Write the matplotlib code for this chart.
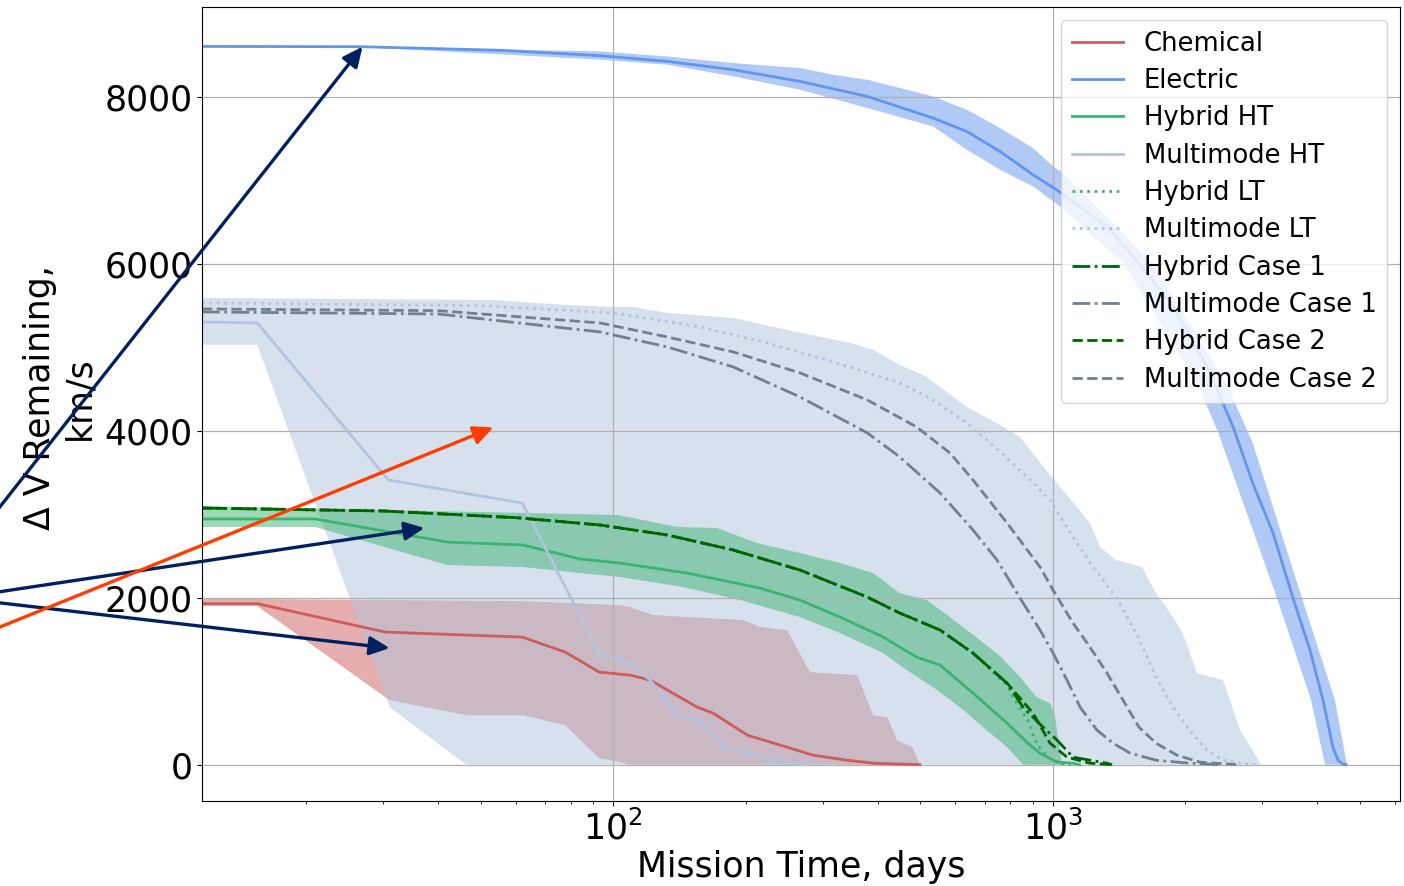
import matplotlib
matplotlib.use("Agg")
import matplotlib.pyplot as plt
import numpy as np

# ---------------- data (days, km/s) ----------------
chem_days = [11.6, 15.5, 30.3, 62.1, 77.8, 92.9, 103.7, 109.3, 121.4, 155.3, 168.8, 201.9, 248.6, 284.9, 340.5, 390.4, 498.7]
chem_dv = [1930, 1930, 1589, 1529, 1349, 1109, 1085, 1073, 1013, 689, 617, 354, 210, 114, 54, 18, 0]
chem_up_days = [11.6, 62.1, 103.7, 109.3, 123.3, 197.7, 215.8, 248.6, 280.4, 359.0, 390.4, 420.0, 442.1, 480.1, 498.7]
chem_up_dv = [1990, 1960, 1912, 1888, 1793, 1733, 1649, 1613, 1109, 1073, 593, 570, 294, 210, 0]
chem_lo_days = [11.6, 15.5, 31.0, 46.3, 62.1, 77.8, 92.9, 103.7, 108.0]
chem_lo_dv = [1900, 1900, 773, 593, 593, 474, 78, 30, 0]

elec_days = [11.6, 26.6, 55.3, 93.4, 132.7, 187.5, 266.1, 378.6, 534.1, 637.8, 759, 902, 1020, 1329, 1571, 1877, 2244, 2571, 2850, 3170, 3520, 3848, 4119, 4340, 4456, 4574, 4650]
elec_dv = [8606, 8603, 8560, 8495, 8427, 8327, 8187, 8007, 7748, 7587, 7347, 7068, 6888, 6448, 6009, 5489, 4770, 4050, 3375, 2776, 1996, 1373, 773, 210, 54, 6, 0]
elec_up_days = [11.6, 26.6, 93.4, 132.7, 187.5, 266.1, 316.4, 378.6, 534.1, 637.8, 759, 902, 1001.6, 1050, 1680, 2482, 2850, 3690, 4385, 4670]
elec_up_dv = [8606, 8606, 8546, 8486, 8407, 8347, 8267, 8207, 8007, 7847, 7628, 7388, 7168, 7100, 6013, 4574, 3855, 1996, 773, 0]
elec_lo_days = [11.6, 26.6, 93.4, 132.7, 187.5, 266.1, 378.6, 534.1, 637.8, 759, 902, 1039, 1444, 2129, 2376, 3237, 3870, 4163]
elec_lo_dv = [8606, 8600, 8447, 8387, 8247, 8087, 7868, 7648, 7368, 7128, 6928, 6688, 6013, 4574, 3987, 1996, 773, 0]

hht_days = [11.6, 21.0, 41.9, 62.4, 84.1, 103.7, 147.3, 215.8, 266.1, 328.2, 411.5, 490, 554, 658.6, 787.2, 877, 935.6, 1023, 1112, 1150]
hht_dv = [2944, 2944, 2668, 2632, 2464, 2416, 2296, 2116, 1972, 1769, 1529, 1289, 1193, 857, 498, 258, 138, 30, 18, 0]
hyb_up_days = [11.6, 102.1, 111.0, 139.9, 172.3, 212.4, 266.1, 328.2, 390.4, 448.7, 516.9, 583.6, 682.9, 759, 842.6, 918, 985.8, 1010, 1030, 1050]
hyb_up_dv = [3099, 2992, 2956, 2848, 2836, 2656, 2536, 2416, 2296, 2056, 1972, 1769, 1493, 1300, 1050, 809, 737, 600, 300, 0]
hyb_lo_days = [11.6, 21.0, 41.9, 62.4, 84.1, 103.7, 144.3, 194.6, 266.1, 328.2, 411.5, 465.4, 534.1, 614.9, 693.7, 787.2, 855.9]
hyb_lo_dv = [2848, 2848, 2392, 2368, 2296, 2248, 2128, 1972, 1769, 1577, 1337, 1133, 929, 689, 450, 210, 0]

mht_days = [11.6, 15.5, 30.8, 62.1, 92.9, 107.6, 121.4, 139.9, 155.3, 184.6, 205.1, 231.2, 276.0]
mht_dv = [5305, 5293, 3411, 3135, 1337, 1229, 1013, 593, 534, 174, 138, 30, 0]
mm_up_days = [11.6, 52.5, 78.6, 100, 111, 132.7, 187.5, 248.6, 345.9, 390.4, 448.7, 516.9, 637.8, 759, 842.6, 970.5, 1077.6, 1215, 1281, 1393, 1596, 1717, 1850, 1975, 2129, 2439, 2531, 2667, 2850, 2961, 2975]
mm_up_dv = [5593, 5569, 5509, 5485, 5485, 5413, 5353, 5209, 5054, 4970, 4790, 4646, 4286, 4070, 3927, 3515, 3230, 2896, 2608, 2452, 2368, 2056, 1817, 1577, 1097, 1013, 773, 414, 174, 18, 0]
mm_lo_days = [11.6, 15.5, 31.0, 46.3]
mm_lo_dv = [5030, 5030, 689, 0]

hlt_days = [11.6, 30, 60, 93.4, 132.7, 187.5, 266.1, 378.6, 448.7, 554.3, 658.6, 787.2, 812, 877, 918, 970, 1039, 1100]
hlt_dv = [3075, 3040, 2960, 2872, 2752, 2572, 2332, 2008, 1817, 1613, 1337, 950, 809, 534, 258, 90, 18, 0]
mlt_days = [11.6, 50, 100, 157.7, 223.9, 316.4, 448.7, 534.1, 637.8, 759, 887.9, 985.8, 1112, 1235, 1393, 1571, 1717, 1877, 2045, 2244, 2439, 2667, 2900]
mlt_dv = [5533, 5500, 5413, 5245, 5054, 4826, 4574, 4370, 4095, 3750, 3411, 3171, 2728, 2368, 2008, 1510, 1049, 689, 414, 174, 54, 18, 0]

hc1_days = [11.6, 30, 60, 93.4, 132.7, 187.5, 266.1, 378.6, 448.7, 554.3, 658.6, 787.2, 855.9, 950, 1023, 1112, 1329, 1364]
hc1_dv = [3075, 3040, 2960, 2872, 2752, 2572, 2332, 2008, 1817, 1613, 1337, 977, 689, 450, 294, 90, 18, 0]
mc1_days = [11.6, 40, 93.4, 132.7, 187.5, 266.1, 378.6, 448.7, 554.3, 658.6, 746.8, 842.6, 935.6, 1001.6, 1077.6, 1154, 1261, 1371, 1500, 1717, 2045, 2400]
mc1_dv = [5425, 5400, 5185, 5006, 4766, 4406, 3975, 3687, 3255, 2812, 2452, 1996, 1613, 1337, 1013, 689, 414, 258, 138, 54, 18, 0]

hc2_days = [11.6, 30, 60, 93.4, 132.7, 187.5, 266.1, 378.6, 448.7, 554.3, 658.6, 787.2, 902, 985.8, 1077.6, 1215, 1364]
hc2_dv = [3075, 3040, 2960, 2872, 2752, 2572, 2332, 2008, 1817, 1613, 1337, 977, 617, 258, 90, 18, 0]
mc2_days = [11.6, 40, 93.4, 132.7, 187.5, 266.1, 378.6, 490, 583.6, 658.6, 787.2, 935.6, 1001.6, 1111.9, 1215, 1329, 1445, 1571, 1717, 1917, 2163, 2439, 2650]
mc2_dv = [5461, 5440, 5293, 5125, 4946, 4694, 4370, 4047, 3735, 3411, 2896, 2368, 2092, 1697, 1409, 1097, 773, 450, 258, 114, 30, 12, 0]

# annotation arrows: tips in data coords, tails in figure pixels
arrow_tip_days = [26.9, 37.2, 31.0, 53.4]
arrow_tip_dv = [8603, 2836, 1397, 4041]
arrow_tail_px = [(-42, 326), (-42, 288), (-42, 288), (-42, 242)]
arrow_colors = ['#002060', '#002060', '#002060', '#FF3D00']

# ---------------- figure ----------------
W, H = 1404, 886
fig = plt.figure(figsize=(W / 100, H / 100), dpi=100)
ax = fig.add_axes([202 / W, 1 - 801 / H, 1198 / W, 793.7 / H])


def band(xu, yu, xl, yl, color, alpha):
    xs = np.concatenate([np.asarray(xu, float), np.asarray(xl, float)[::-1]])
    ys = np.concatenate([np.asarray(yu, float), np.asarray(yl, float)[::-1]])
    ax.fill(xs, ys, color=color, alpha=alpha, lw=0)


c_chem = '#CD5C5C'
c_elec = '#6495ED'
c_hyb = '#3CB371'
c_mm = '#B0C4DE'
c_dg = '#006400'
c_sg = '#708090'

band(chem_up_days, chem_up_dv, chem_lo_days, chem_lo_dv, c_chem, 0.5)
band(mm_up_days, mm_up_dv, mm_lo_days, mm_lo_dv, c_mm, 0.5)
band(hyb_up_days, hyb_up_dv, hyb_lo_days, hyb_lo_dv, c_hyb, 0.5)
band(elec_up_days, elec_up_dv, elec_lo_days, elec_lo_dv, c_elec, 0.5)

lw = 2.0
ax.plot(chem_days, chem_dv, color=c_chem, lw=lw, label='Chemical')
ax.plot(elec_days, elec_dv, color=c_elec, lw=lw, label='Electric')
ax.plot(hht_days, hht_dv, color=c_hyb, lw=lw, label='Hybrid HT')
ax.plot(mht_days, mht_dv, color=c_mm, lw=lw, label='Multimode HT')
ax.plot(hlt_days, hlt_dv, color=c_hyb, lw=lw, ls=':', label='Hybrid LT')
ax.plot(mlt_days, mlt_dv, color=c_mm, lw=lw, ls=':', label='Multimode LT')
ax.plot(hc1_days, hc1_dv, color=c_dg, lw=lw, ls='-.', label='Hybrid Case 1')
ax.plot(mc1_days, mc1_dv, color=c_sg, lw=lw, ls='-.', label='Multimode Case 1')
ax.plot(hc2_days, hc2_dv, color=c_dg, lw=lw, ls='--', label='Hybrid Case 2')
ax.plot(mc2_days, mc2_dv, color=c_sg, lw=lw, ls='--', label='Multimode Case 2')

ax.set_xscale('log')
ax.set_xlim(11.6, 6166)
ax.set_ylim(-435, 9075)
ax.set_yticks([0, 2000, 4000, 6000, 8000])
ax.grid(True, which='major', color='#b0b0b0', lw=0.9)
ax.tick_params(labelsize=25)

ax.set_xlabel('Mission Time, days', fontsize=25, labelpad=2)
ax.set_ylabel('Δ V Remaining,\nkm/s', fontsize=25)
ax.yaxis.set_label_coords(-0.0885, 0.5077)

ax.legend(loc='upper right', fontsize=18.6, labelspacing=0.44, borderaxespad=0.5)

for d, v, tail, col in zip(arrow_tip_days, arrow_tip_dv, arrow_tail_px, arrow_colors):
    ax.annotate('', xy=(d, v), xycoords='data', xytext=tail, textcoords='figure pixels',
                annotation_clip=False,
                arrowprops=dict(arrowstyle='-|>,head_length=0.6,head_width=0.28',
                                mutation_scale=20, color=col, lw=2.4,
                                shrinkA=0, shrinkB=0))

fig.savefig('out.png', dpi=100)
